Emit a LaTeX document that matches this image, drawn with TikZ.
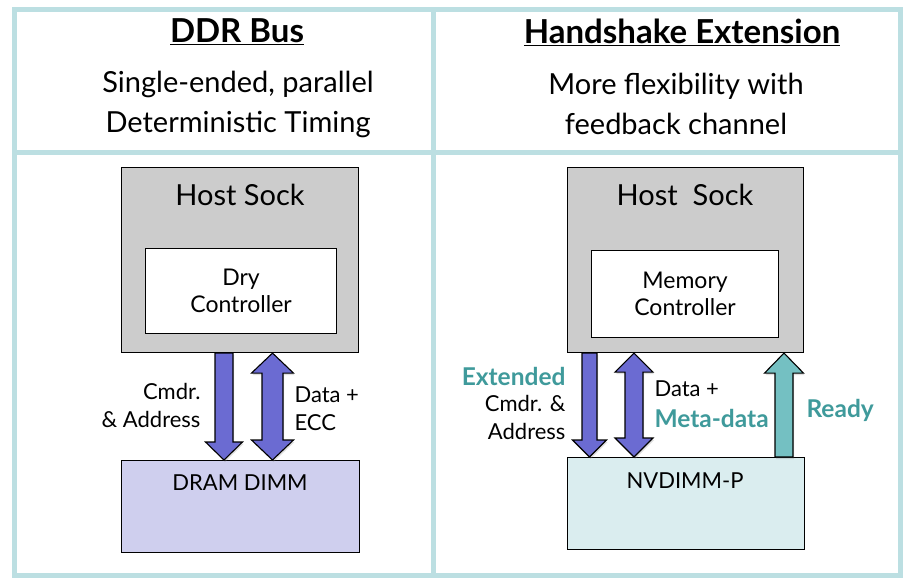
\documentclass[tikz,border=0pt]{standalone}
\usepackage{fontspec}
\setmainfont{Lato}
\usetikzlibrary{calc,shadows}
\definecolor{framecol}{HTML}{BCDFE2}
\definecolor{sockgray}{HTML}{CCCCCC}
\definecolor{dramfill}{HTML}{CFCFEE}
\definecolor{nvfill}{HTML}{DAEDEF}
\definecolor{purp}{HTML}{6B6BD2}
\definecolor{tealarr}{HTML}{74C0C2}
\definecolor{tealtxt}{HTML}{3F9A9B}
\newcommand\fs[2]{\fontsize{#1}{#2}\selectfont}
% #1 style, #2 top coord, #3 tip coord, #4 half shaft, #5 half head, #6 head length
\newcommand\DownArr[6]{\draw[#1] ($(#2)+(-#4,0)$) -- ($(#2)+(#4,0)$) -- ($(#3)+(#4,-#6)$) -- ($(#3)+(#5,-#6)$) -- (#3) -- ($(#3)+(-#5,-#6)$) -- ($(#3)+(-#4,-#6)$) -- cycle;}
\newcommand\UpArr[6]{\draw[#1] ($(#3)+(-#4,0)$) -- ($(#3)+(#4,0)$) -- ($(#2)+(#4,#6)$) -- ($(#2)+(#5,#6)$) -- (#2) -- ($(#2)+(-#5,#6)$) -- ($(#2)+(-#4,#6)$) -- cycle;}
\newcommand\BothArr[6]{\draw[#1] (#2) -- ($(#2)+(#5,#6)$) -- ($(#2)+(#4,#6)$) -- ($(#3)+(#4,-#6)$) -- ($(#3)+(#5,-#6)$) -- (#3) -- ($(#3)+(-#5,-#6)$) -- ($(#3)+(-#4,-#6)$) -- ($(#2)+(-#4,#6)$) -- ($(#2)+(-#5,#6)$) -- cycle;}
\begin{document}
\begin{tikzpicture}[x=1pt,y=-1pt,
  framestyle/.style={draw=framecol,line width=5pt},
  sockbox/.style={draw=black,line width=1.1pt,fill=sockgray,anchor=north west,inner sep=0pt},
  ctrlbox/.style={draw=black,line width=1.1pt,fill=white,anchor=north west,inner sep=0pt},
  dimmbox/.style={draw=black,line width=1.1pt,anchor=north west,inner sep=0pt},
  purparrow/.style={fill=purp,draw=black,line width=1.1pt,line join=miter,drop shadow={opacity=0.25,shadow xshift=1pt,shadow yshift=-2pt}},
  tealarrow/.style={fill=tealarr,draw=black,line width=1.1pt,line join=miter,drop shadow={opacity=0.25,shadow xshift=1pt,shadow yshift=-2pt}},
  headtxt/.style={font=\fs{33}{38}\bfseries},
  subtxt/.style={font=\fs{29}{40},align=center},
  socktxt/.style={font=\fs{29}{33}},
  smalltxt/.style={font=\fs{23}{27}},
  dimmtxt/.style={font=\fs{22}{27}},
  lbl/.style={font=\fs{22}{28}},
  tealbold/.style={text=tealtxt,font=\fs{24.5}{28}\bfseries}
]
\useasboundingbox (0,0) rectangle (903,578);
\fill[white] (0,0) rectangle (903,578);
% frame
\draw[framestyle] (14,10) rectangle (900,575);
\draw[framestyle] (433,10) -- (433,575);
\draw[framestyle] (14,152) -- (900,152);

% headers
\node[headtxt] (h1) at (237,32) {\underline{DDR Bus}};
\node[subtxt] (s1) at (238,104) {Single-ended, parallel\\Deterministic Timing};
\node[headtxt] (h2) at (682,32) {\underline{Handshake Extension}};
\node[subtxt] (s2) at (676,104) {More flexibility with\\feedback channel};

% left column
\node[sockbox,minimum width=237pt,minimum height=185pt] (host1) at (121,167) {};
\node[socktxt] (host1t) at (240,195) {Host Sock};
\node[ctrlbox,minimum width=191pt,minimum height=85pt] (ctrl1) at (145,248) {};
\node[smalltxt,align=center] (ctrl1t) at (ctrl1.center) {Dry\\Controller};
\node[dimmbox,fill=dramfill,minimum width=238pt,minimum height=92pt] (dimm1) at (121,460) {};
\node[dimmtxt] (dimm1t) at (240,483) {DRAM DIMM};

\coordinate (c1t) at (224,0 |- host1.south);
\coordinate (c1b) at (224,0 |- dimm1.north);
\coordinate (d1t) at (272.5,0 |- host1.south);
\coordinate (d1b) at (272.5,0 |- dimm1.north);
\DownArr{purparrow}{c1t}{c1b}{9}{18.5}{18}
\BothArr{purparrow}{d1t}{d1b}{10.5}{21}{20}

\node[lbl,align=right,anchor=east] (l1) at (204,405) {Cmdr.\\\& Address};
\node[lbl,align=left,anchor=west] (r1) at (291,409) {Data +\\ECC};

% right column
\node[sockbox,minimum width=236pt,minimum height=185pt] (host2) at (567,167) {};
\node[socktxt] (host2t) at (685,195) {Host\ \ Sock};
\node[ctrlbox,minimum width=187pt,minimum height=87pt] (ctrl2) at (591,250) {};
\node[smalltxt,align=center] (ctrl2t) at (ctrl2.center) {Memory\\Controller};
\node[dimmbox,fill=nvfill,minimum width=237pt,minimum height=92pt] (dimm2) at (567,457) {};
\node[dimmtxt] (dimm2t) at (685,481) {NVDIMM-P};

\coordinate (c2t) at (589.5,0 |- host2.south);
\coordinate (c2b) at (589.5,0 |- dimm2.north);
\coordinate (d2t) at (634,0 |- host2.south);
\coordinate (d2b) at (634,0 |- dimm2.north);
\coordinate (r2t) at (784,0 |- host2.south);
\coordinate (r2b) at (784,0 |- dimm2.north);
\DownArr{purparrow}{c2t}{c2b}{7.5}{17}{17}
\BothArr{purparrow}{d2t}{d2b}{9}{19}{19}
\UpArr{tealarrow}{r2t}{r2b}{9}{19.5}{20}

\node[tealbold,anchor=east] (l2a) at (569,376) {Extended};
\node[lbl,align=right,anchor=north east] (l2b) at (569,392) {Cmdr. \&\\Address};
\node[lbl,anchor=west] (r2a) at (651,389) {Data +};
\node[tealbold,anchor=west] (r2b2) at (651,418) {Meta-data};
\node[tealbold,anchor=west] (rdy) at (803,410) {Ready};
\end{tikzpicture}
\end{document}
